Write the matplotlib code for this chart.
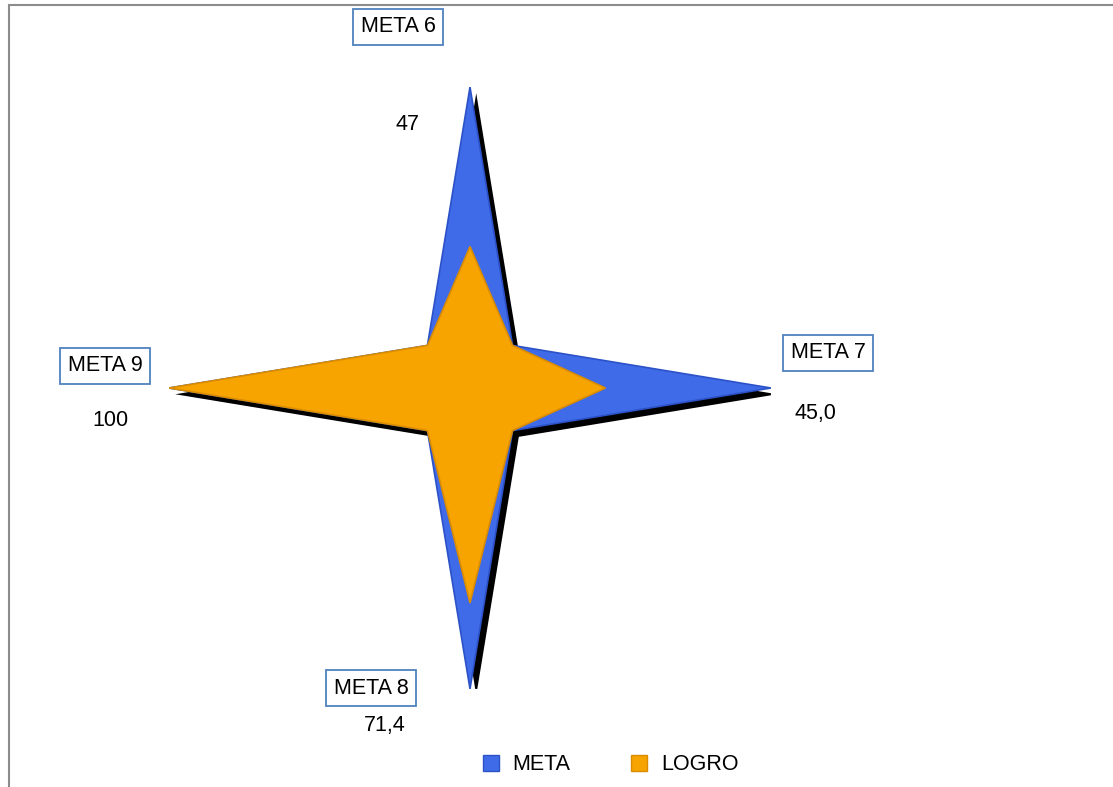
import numpy as np
import matplotlib
matplotlib.use("Agg")
import matplotlib.pyplot as plt
import matplotlib.patheffects as pe
from matplotlib.patches import Rectangle

# datos: 4 metas en los ejes, puntos intermedios (diagonales) sin etiqueta
categorias = ["META 6", "", "META 7", "", "META 8", "", "META 9", ""]
meta = [100, 20, 100, 20, 100, 20, 100, 20]
logro = [47, 20, 45, 20, 71.4, 20, 100, 20]
etiquetas_logro = ["47", "45,0", "71,4", "100"]

plt.rcParams['font.family'] = ['Liberation Sans', 'DejaVu Sans']

W, H = 1113, 787
fig = plt.figure(figsize=(W / 100, H / 100), dpi=100)

# marco exterior del grafico
fig.patches.append(Rectangle((9 / W, -0.01), 1.2, 1 - 5 / H + 0.01, transform=fig.transFigure,
                             fill=False, edgecolor='#8c8c8c', lw=1.5))

cx, cy, R = 470, 388, 301
ax = fig.add_axes([(cx - R) / W, 1 - (cy + R) / H, 2 * R / W, 2 * R / H], projection='polar')
ax.set_theta_zero_location('N')
ax.set_theta_direction(-1)
ax.set_ylim(0, 100)

ang = np.linspace(0, 2 * np.pi, len(categorias), endpoint=False)
ang_c = np.append(ang, ang[0])
meta_c = np.append(meta, meta[0])
logro_c = np.append(logro, logro[0])

sombra = [pe.SimplePatchShadow(offset=(4.5, -4.5), shadow_rgbFace='black', alpha=1.0), pe.Normal()]
ax.fill(ang_c, meta_c, color='#3f6ae8', edgecolor='#2c52c8', lw=1.2, path_effects=sombra, zorder=2)
ax.fill(ang_c, logro_c, color='#f7a300', edgecolor='#d98c00', lw=1.2, zorder=3)

ax.set_xticks([])
ax.set_yticks([])
ax.grid(False)
ax.spines['polar'].set_visible(False)
ax.patch.set_alpha(0)

# etiquetas de categoria con recuadro
caja = dict(boxstyle='square,pad=0.35', fc='white', ec='#4f81bd', lw=1.3)
pos_cat = [(398, 27), (828, 353), (371, 688), (105, 366)]
for nombre, (x, y) in zip([c for c in categorias if c], pos_cat):
    fig.text(x / W, 1 - y / H, nombre, ha='center', va='center', fontsize=15.5, bbox=caja)

# etiquetas de datos
pos_val = [(408, 125), (815, 413), (385, 726), (110, 421)]
for txt, (x, y) in zip(etiquetas_logro, pos_val):
    fig.text(x / W, 1 - y / H, txt, ha='center', va='center', fontsize=15.5)

# leyenda
h1 = plt.Line2D([], [], marker='s', ls='', color='#3f6ae8', markeredgecolor='#2c52c8', markersize=12)
h2 = plt.Line2D([], [], marker='s', ls='', color='#f7a300', markeredgecolor='#d98c00', markersize=12)
fig.legend([h1, h2], ["META", "LOGRO"], loc='center', bbox_to_anchor=(604 / W, 1 - 765 / H),
           ncol=2, frameon=False, fontsize=15.5, handletextpad=0.0, columnspacing=2.2)

fig.savefig("out.png", dpi=100)
